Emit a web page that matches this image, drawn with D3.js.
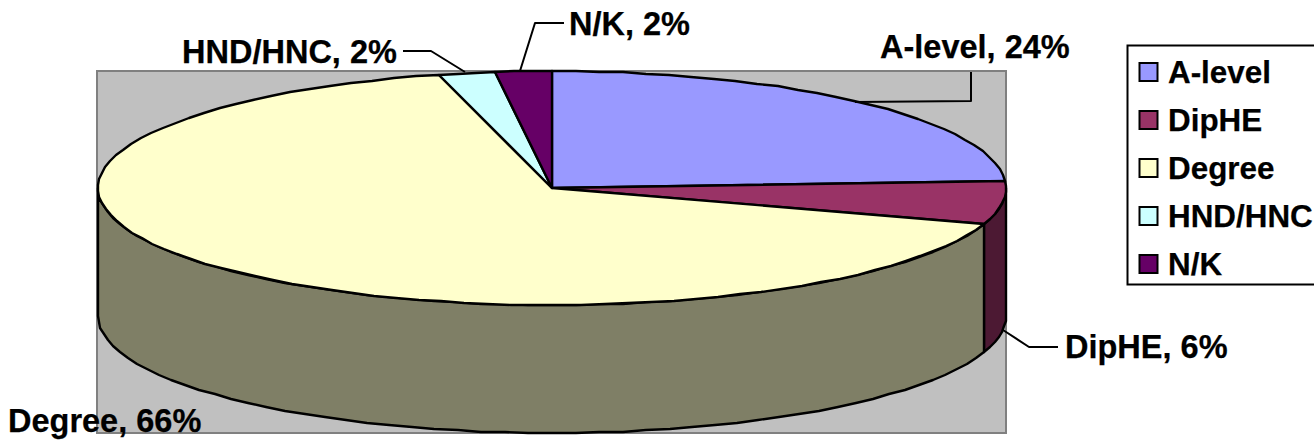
<!DOCTYPE html>
<html>
<head>
<meta charset="utf-8">
<script src="https://cdn.jsdelivr.net/npm/d3@7/dist/d3.min.js"></script>
<style>
html, body { margin: 0; padding: 0; background: #fff; overflow: hidden; }
svg { display: block; }
text { font-family: "Liberation Sans", Arial, sans-serif; font-weight: bold; font-size: 32.5px; fill: #000; stroke: #000; stroke-width: 0.25px; }
text.legend-label { font-size: 31.4px; }
</style>
</head>
<body>
<svg id="chart" width="1314" height="444"></svg>
<script>
// Qualification shares, clockwise from twelve o'clock
const categories = ["A-level", "DipHE", "Degree", "HND/HNC", "N/K"];
const shares = [24, 6, 66, 2, 2];
const topColors = ["#9999FF", "#993366", "#FFFFCC", "#CCFFFF", "#660066"];
const sideColors = ["#4C4C80", "#4C1933", "#7F7F66", "#668080", "#330033"];

// Tilted disc geometry
const cx = 552, cy = 188, rx = 454, ry = 117, depth = 128;
const plot = { x0: 97, y0: 71, x1: 1006, y1: 433 };

const svg = d3.select("#chart");

// Unit circle mapped onto the tilted ellipse
const sx = d3.scaleLinear().domain([-1, 1]).range([cx - rx, cx + rx]);
const sy = d3.scaleLinear().domain([-1, 1]).range([cy - ry, cy + ry]);
const pt = (a, dy = 0) => [Math.round(sx(Math.sin(a))), Math.round(sy(-Math.cos(a)) + dy)];

// Sample an elliptical rim between two angles; whole-pixel vertices give the rim its stepped look
function rim(a0, a1, dy = 0) {
  const n = Math.max(2, Math.ceil(Math.abs(a1 - a0) / (3 * Math.PI / 180)));
  return d3.range(n + 1).map(i => pt(a0 + (a1 - a0) * i / n, dy));
}

const slices = d3.pie().value(d => d).sort(null)(shares);
const line = d3.line();
const edge = { fill: "none", stroke: "#000", "stroke-width": 2, "stroke-linejoin": "round" };

// Plot backdrop
svg.append("rect")
  .attr("x", plot.x0).attr("y", plot.y0)
  .attr("width", plot.x1 - plot.x0).attr("height", plot.y1 - plot.y0)
  .attr("fill", "#C0C0C0").attr("stroke", "#808080").attr("stroke-width", 2);

// Outer wall: only the front half of the disc is visible
const front0 = Math.PI / 2, front1 = 3 * Math.PI / 2;
slices.forEach((s, i) => {
  const a0 = Math.max(s.startAngle, front0), a1 = Math.min(s.endAngle, front1);
  if (a1 <= a0) return;
  const pts = rim(a0, a1).concat(rim(a1, a0, depth));
  svg.append("path")
    .attr("d", line(pts) + "Z")
    .attr("fill", sideColors[i])
    .attr("stroke", "#000").attr("stroke-width", 2.4).attr("stroke-linejoin", "round");
});

// Top face
slices.forEach((s, i) => {
  const pts = [[cx, cy]].concat(rim(s.startAngle, s.endAngle));
  svg.append("path")
    .attr("d", line(pts) + "Z")
    .attr("fill", topColors[i])
    .attr("stroke", "#000").attr("stroke-width", 2.4).attr("stroke-linejoin", "round");
});

// Data labels and their leader lines
const labelLayout = [
  { x: 880, y: 58, leader: [[855, 102], [971, 101], [971, 72]] },
  { x: 1065, y: 358, leader: [[1003, 330], [1029, 347], [1058, 347]] },
  { x: 8, y: 432, leader: null },
  { x: 182, y: 63, leader: [[403, 51], [431, 51], [465, 72]] },
  { x: 569, y: 35, leader: [[520, 71], [535, 23], [564, 23]] }
];
labelLayout.forEach((l, i) => {
  if (l.leader) {
    const p = svg.append("path").attr("d", line(l.leader));
    Object.entries(edge).forEach(([k, v]) => p.attr(k, v));
  }
  svg.append("text").attr("x", l.x).attr("y", l.y).text(`${categories[i]}, ${shares[i]}%`);
});

// Legend, running up to the right edge of the page
const legendY = d3.scalePoint().domain(categories).range([72, 264]);
svg.append("rect")
  .attr("x", 1127.5).attr("y", 45.5).attr("width", 220).attr("height", 239)
  .attr("fill", "#fff").attr("stroke", "#000").attr("stroke-width", 2);
categories.forEach((c, i) => {
  const y = legendY(c);
  svg.append("rect")
    .attr("x", 1139.5).attr("y", y - 9).attr("width", 18).attr("height", 18)
    .attr("fill", topColors[i]).attr("stroke", "#000").attr("stroke-width", 2);
  svg.append("text").attr("class", "legend-label").attr("x", 1168).attr("y", y + 11).text(c);
});
</script>
</body>
</html>
